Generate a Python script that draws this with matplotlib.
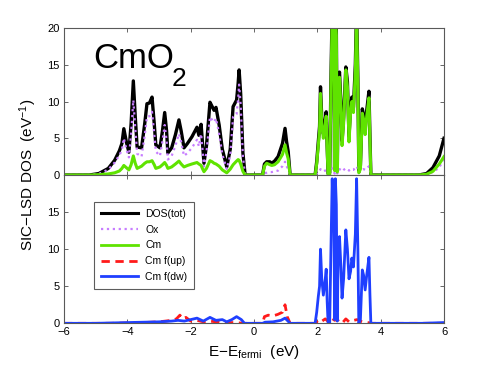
import matplotlib
matplotlib.use('Agg')
import matplotlib.pyplot as plt

plt.rcParams['font.family'] = ['Liberation Sans', 'DejaVu Sans']
plt.rcParams['mathtext.fontset'] = 'custom'
plt.rcParams['mathtext.rm'] = 'Liberation Sans'
plt.rcParams['mathtext.it'] = 'Liberation Sans:italic'

# energy grid for the upper panel (eV relative to E_fermi)
e_top = [-6.0, -5.2, -4.9, -4.6, -4.4, -4.25, -4.17, -4.11, -4.03, -3.95,
         -3.88, -3.81, -3.75, -3.69, -3.55, -3.45, -3.38, -3.30, -3.22, -3.15,
         -3.10, -2.97, -2.89, -2.82, -2.76, -2.72, -2.60, -2.48, -2.37, -2.30,
         -2.21, -2.10, -1.96, -1.80, -1.74, -1.67, -1.62, -1.58, -1.50, -1.39,
         -1.32, -1.26, -1.20, -1.10, -1.00, -0.86, -0.75, -0.66, -0.55, -0.50,
         -0.47, -0.42, -0.35, -0.28, 0.27, 0.33, 0.40, 0.50, 0.56, 0.65,
         0.76, 0.90, 0.98, 1.03, 1.08, 1.14,
         1.93, 1.98, 2.03, 2.07, 2.10, 2.14, 2.19, 2.24, 2.28, 2.31,
         2.34, 2.39, 2.43, 2.47, 2.50, 2.52, 2.545, 2.57, 2.60, 2.63,
         2.66, 2.70, 2.74, 2.78, 2.83, 2.90, 2.95, 3.00, 3.05, 3.09,
         3.14, 3.20, 3.24, 3.28, 3.31, 3.36, 3.42, 3.46, 3.51, 3.56,
         3.63, 3.66, 3.69,
         5.20, 5.45, 5.65, 5.85, 6.0]

dos_tot = [0, 0, 0.2, 0.9, 2.0, 3.3, 4.3, 6.3, 4.5, 3.1,
           7.0, 12.8, 8.0, 3.8, 3.7, 7.0, 9.7, 9.8, 10.6, 7.0,
           4.1, 3.7, 6.0, 8.5, 6.0, 3.0, 3.7, 5.5, 7.5, 6.0,
           3.7, 4.3, 5.2, 6.5, 5.4, 6.9, 4.0, 1.6, 4.0, 9.9,
           9.3, 8.8, 9.2, 6.8, 3.5, 1.1, 3.5, 9.3, 10.2, 12.5,
           14.3, 11.0, 3.0, 0, 0, 1.5, 1.8, 1.8, 1.6, 1.9,
           2.5, 4.3, 6.35, 4.5, 3.2, 0,
           0, 1.8, 4.5, 6.6, 12.0, 7.7, 5.6, 7.2, 8.6, 4.0,
           0.2, 0.3, 13.0, 23.0, 18.0, 22.0, 0.8, 23.0, 20.0, 0.6,
           13.0, 14.0, 10.2, 4.6, 7.8, 14.7, 12.7, 5.2, 9.2, 10.6,
           9.2, 15.0, 23.0, 13.0, 0.6, 1.3, 9.0, 8.2, 6.2, 8.8,
           11.4, 5.6, 0,
           0, 0.2, 1.0, 2.6, 5.0]

dos_ox = [0, 0, 0.15, 0.75, 1.7, 2.7, 3.4, 5.0, 3.5, 2.4,
          5.6, 10.2, 6.4, 2.9, 2.5, 5.4, 7.9, 8.0, 8.6, 5.6,
          3.2, 2.6, 4.6, 6.8, 4.7, 2.1, 2.6, 4.0, 5.6, 4.5,
          2.6, 3.0, 3.7, 4.8, 3.9, 5.6, 3.2, 1.15, 3.1, 7.9,
          7.5, 7.2, 7.7, 5.6, 2.8, 0.8, 2.7, 7.9, 8.3, 10.4,
          12.3, 9.5, 2.5, 0, 0, 0.3, 0.3, 0.4, 0.4, 0.5,
          0.6, 1.2, 1.8, 1.2, 0.8, 0,
          0, 0.2, 0.4, 0.5, 0.8, 0.6, 0.5, 0.6, 0.6, 0.4,
          0.2, 0.3, 0.7, 0.9, 0.9, 0.9, 0.2, 0.9, 0.9, 0.2,
          0.7, 0.8, 0.7, 0.5, 0.7, 0.9, 0.8, 0.6, 0.8, 0.7,
          0.7, 1.0, 1.2, 0.8, 0.3, 0.5, 0.7, 0.8, 0.7, 0.9,
          1.2, 0.6, 0,
          0, 0.1, 0.4, 1.0, 2.3]

dos_cm = [0, 0, 0.05, 0.15, 0.3, 0.55, 0.9, 1.3, 1.0, 0.7,
          1.4, 2.6, 1.6, 0.9, 1.2, 1.6, 1.8, 1.8, 1.95, 1.4,
          0.9, 1.1, 1.4, 1.7, 1.3, 0.9, 1.1, 1.5, 1.9, 1.5,
          1.1, 1.3, 1.5, 1.7, 1.5, 1.3, 0.8, 0.45, 0.9, 1.95,
          1.8, 1.6, 1.5, 1.2, 0.7, 0.3, 0.8, 1.4, 1.9, 2.1,
          2.0, 1.5, 0.5, 0, 0, 1.2, 1.6, 1.4, 1.3, 1.4,
          1.8, 2.8, 4.1, 3.0, 2.2, 0,
          0, 1.5, 4.0, 6.0, 11.1, 7.0, 5.0, 6.5, 8.0, 3.5,
          0, 0, 12.0, 22.0, 17.0, 21.0, 0.6, 22.0, 19.0, 0.4,
          12.0, 13.3, 9.5, 4.0, 7.0, 14.3, 12.0, 4.5, 8.5, 10.0,
          8.5, 14.0, 22.0, 12.0, 0.3, 0.8, 8.4, 7.6, 5.5, 8.0,
          10.5, 5.0, 0,
          0, 0.1, 0.5, 1.5, 2.5]

# Cm f states, lower panel
e_up = [-6.0, -4.5, -4.0, -3.5, -3.0, -2.6, -2.45, -2.34, -2.25, -2.15,
        -2.0, -1.8, -1.6, -1.4, -1.2, -1.0, -0.6, -0.3, 0.27, 0.33,
        0.45, 0.6, 0.75, 0.9, 0.98, 1.05, 1.1, 1.14, 1.93, 2.05,
        2.15, 2.25, 2.35, 2.45, 2.55, 2.62, 2.7, 2.8, 2.9, 3.0,
        3.15, 3.25, 3.35, 3.45, 3.6, 3.7, 6.0]
f_up = [0, 0, 0.05, 0.1, 0.2, 0.4, 0.6, 1.1, 0.6, 0.8,
        0.3, 0.4, 0.2, 0.3, 0.2, 0.1, 0.1, 0, 0, 0.9,
        1.1, 1.0, 1.2, 1.5, 2.5, 0.9, 0.4, 0, 0, 0.5,
        0.3, 0.6, 0.2, 0.7, 0.4, 0.6, 0.1, 0.1, 0.6, 0.2,
        0.4, 0.5, 0.3, 0.2, 0.1, 0, 0]

e_dw = [-6.0, -5.0, -4.5, -4.0, -3.5, -3.0, -2.6, -2.4, -2.2, -2.0,
        -1.8, -1.6, -1.39, -1.2, -1.0, -0.86, -0.7, -0.55, -0.4, -0.3,
        0.27, 0.35, 0.6, 0.85, 0.98, 1.05, 1.14,
        1.93, 1.98, 2.03, 2.07, 2.10, 2.14, 2.19, 2.24, 2.28, 2.31,
        2.34, 2.39, 2.43, 2.47, 2.50, 2.52, 2.545, 2.57, 2.60, 2.63,
        2.66, 2.70, 2.74, 2.78, 2.83, 2.90, 2.95, 3.00, 3.05, 3.09,
        3.14, 3.20, 3.24, 3.28, 3.31, 3.36, 3.42, 3.46, 3.51, 3.56,
        3.63, 3.66, 3.69, 5.3, 6.0]
f_dw = [0, 0, 0.05, 0.1, 0.15, 0.2, 0.3, 0.4, 0.3, 0.5,
        0.7, 0.3, 0.8, 0.4, 0.5, 0.2, 0.5, 0.9, 0.5, 0,
        0, 0.15, 0.2, 0.4, 0.7, 0.4, 0,
        0, 1.5, 3.6, 5.0, 10.0, 6.0, 3.8, 5.5, 7.3, 3.0,
        0, 0, 10.0, 19.5, 14.0, 18.0, 0.5, 19.5, 16.0, 0.3,
        10.0, 11.7, 8.0, 3.4, 6.0, 12.6, 10.0, 6.0, 7.0, 8.8,
        7.6, 12.0, 19.5, 10.0, 0, 0.5, 7.2, 6.5, 4.5, 6.5,
        8.9, 4.0, 0, 0, 0.1]

c_tot = 'black'
c_ox = '#c77dff'
c_cm = '#5fe300'
c_up = '#ff1a1a'
c_dw = '#1f3fff'

fig = plt.figure(figsize=(4.91, 3.69), dpi=100)
ax1 = fig.add_axes([0.1303, 0.5257, 0.774, 0.3984])
ax2 = fig.add_axes([0.1303, 0.1238, 0.774, 0.4019])

ax1.plot(e_top, dos_tot, color=c_tot, lw=2.4, solid_joinstyle='round')
ax1.plot(e_top, dos_ox, color=c_ox, lw=1.6, ls=':')
ax1.plot(e_top, dos_cm, color=c_cm, lw=2.2, solid_joinstyle='round')

ax2.plot(e_up, f_up, color=c_up, lw=2.0, ls='--', dashes=(3, 2))
ax2.plot(e_dw, f_dw, color=c_dw, lw=2.0, solid_joinstyle='round')

for ax in (ax1, ax2):
    ax.set_xlim(-6, 6)
    ax.set_ylim(0, 20)
    ax.set_xticks([-6, -4, -2, 0, 2, 4, 6])
    ax.tick_params(direction='in', top=True, right=True, labelsize=8,
                   length=3, width=0.6, color='0.3', pad=3)
    for s in ax.spines.values():
        s.set_color('0.35')
        s.set_linewidth(0.8)

ax1.set_yticks([0, 5, 10, 15, 20])
ax1.tick_params(labelbottom=False)
ax2.set_yticks([0, 5, 10, 15, 20])
ax2.set_yticklabels(['0', '5', '10', '15', ''])
ax2.set_xticklabels(['\u22126', '\u22124', '\u22122', '0', '2', '4', '6'])

# compound label, with the large lowered subscript of the original
ax1.text(0.076, 0.728, 'CmO', transform=ax1.transAxes,
         fontsize=25, va='baseline', ha='left')
ax1.text(0.284, 0.605, '2', transform=ax1.transAxes,
         fontsize=19, va='baseline', ha='left')

# legend proxies
h_tot, = ax2.plot([], [], color=c_tot, lw=2.2)
h_ox, = ax2.plot([], [], color=c_ox, lw=1.6, ls=':')
h_cm, = ax2.plot([], [], color=c_cm, lw=2.0)
h_up, = ax2.plot([], [], color=c_up, lw=2.0, ls='--', dashes=(3, 2))
h_dw, = ax2.plot([], [], color=c_dw, lw=2.0)
leg = ax2.legend([h_tot, h_ox, h_cm, h_up, h_dw],
                 ['DOS(tot)', 'Ox', 'Cm', 'Cm f(up)', 'Cm f(dw)'],
                 loc='upper left', bbox_to_anchor=(0.079, 0.82),
                 borderaxespad=0, fancybox=False, fontsize=7.5,
                 handlelength=3.5, labelspacing=0.55, borderpad=0.7,
                 handletextpad=0.7)
leg.get_frame().set_edgecolor('0.2')
leg.get_frame().set_linewidth(0.8)

fig.text(0.058, 0.526, 'SIC\u2212LSD DOS  (eV$^{\u22121}$)', rotation=90,
         ha='center', va='center', fontsize=11)
ax2.set_xlabel('E\u2212E$_\\mathregular{fermi}$  (eV)', fontsize=11, labelpad=4)

fig.savefig('out.png', dpi=100)
